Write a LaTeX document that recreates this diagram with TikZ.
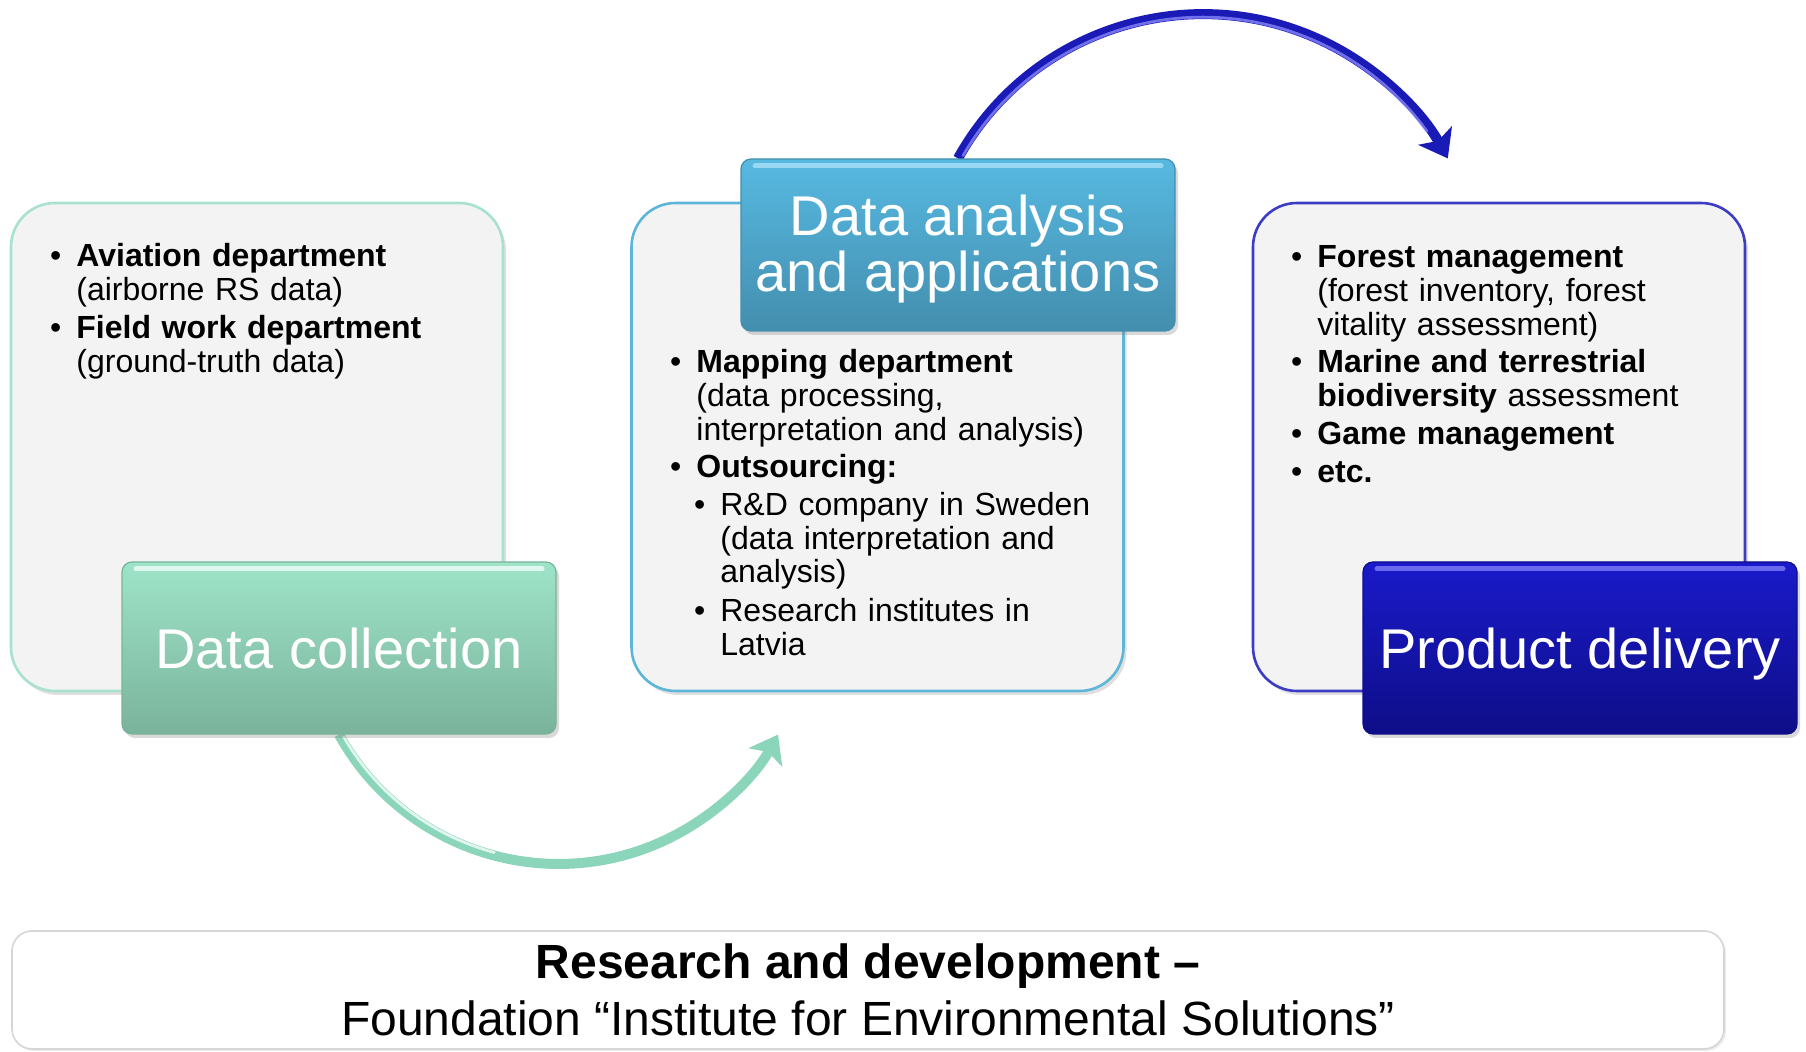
\documentclass[tikz,border=0pt]{standalone}
\usepackage{fontspec}
\setmainfont{Liberation Sans}
\usetikzlibrary{shadows,arrows.meta,backgrounds}
\definecolor{panelfill}{HTML}{F3F3F3}
\definecolor{mintline}{HTML}{A8E2CE}
\definecolor{mintTop}{HTML}{9EE4C9}
\definecolor{mintBot}{HTML}{7AB39C}
\definecolor{cyanline}{HTML}{5DB6D8}
\definecolor{cyanTop}{HTML}{57B9E1}
\definecolor{cyanBot}{HTML}{438EAE}
\definecolor{navyline}{HTML}{3C3CC4}
\definecolor{navyTop}{HTML}{1A1ACB}
\definecolor{navyBot}{HTML}{0E0E88}
\definecolor{bluearrow}{HTML}{1A1AB6}
\definecolor{greenarrow}{HTML}{8BD5BA}
\definecolor{rdline}{HTML}{D6D6D6}
\newcommand{\mybul}{\llap{\textbullet\hspace{7.5pt}}}
\begin{document}
\begin{tikzpicture}[x=0.5pt,y=0.5pt,
  panel/.style={draw=#1, line width=1.3pt, fill=panelfill, rounded corners=22pt,
    minimum width=246pt, minimum height=244pt, inner sep=0pt,
    drop shadow={shadow xshift=1.5pt, shadow yshift=-2pt, opacity=0.25}},
  titlebox/.style n args={3}{top color=#1, bottom color=#2, draw=#2, line width=0.6pt,
    rounded corners=5pt, minimum width=217pt, minimum height=86pt, inner sep=0pt,
    text=white, align=center, font=\fontsize{28}{29}\selectfont,
    drop shadow={shadow xshift=1.5pt, shadow yshift=-2pt, opacity=0.3},
    path picture={\draw[#3, line width=2.5pt, opacity=0.7, line cap=round]
      ([xshift=7pt,yshift=-3.5pt]path picture bounding box.north west) --
      ([xshift=-7pt,yshift=-3.5pt]path picture bounding box.north east);}},
  body/.style={anchor=base west, inner sep=0pt, text width=215pt, align=left,
    font=\fontsize{16}{16.85}\selectfont},
  rdbox/.style={draw=rdline, line width=0.8pt, fill=white, rounded corners=10pt,
    minimum width=856pt, minimum height=59pt, inner sep=0pt, align=center,
    font=\fontsize{24}{28.5}\selectfont,
    drop shadow={shadow xshift=1pt, shadow yshift=-1pt, opacity=0.15}},
  arrowline/.style={line width=5pt, draw=#1,
    -{Stealth[width=19pt,length=13pt,inset=3pt,fill=#1]}},
  glint/.style={line width=1.4pt, draw=#1, opacity=0.75, line cap=round}
]
\useasboundingbox (0,0) rectangle (1806,1051);

% panels
\node[panel=mintline] (lp) at (257,604) {};
\node[panel=cyanline] (mp) at (877.5,604) {};
\node[panel=navyline] (rp) at (1499,604) {};

% title boxes
\node[titlebox={mintTop}{mintBot}{white}] (dc) at (339,403) {Data collection};
\node[titlebox={cyanTop}{cyanBot}{cyan!30!white}] (da) at (958,806) {\raisebox{0pt}[\dimexpr\height+7pt\relax][\depth]{\begin{tabular}{@{}c@{}}Data analysis\\[-1pt]and applications\end{tabular}}};
\node[titlebox={navyTop}{navyBot}{blue!45!white}] (pd) at (1580,403) {\raisebox{0pt}[\height][0pt]{Product delivery}};

% arrows
\begin{pgfonlayer}{background}
\draw[arrowline=bluearrow] (da.north) arc[start angle=151, end angle=29, radius=140pt] coordinate (bluetip);
\coordinate (bc) at ([shift={(151:-140pt)}]da.north);
\draw[glint=blue!45!white] (bc) ++(150:138.5pt) arc[start angle=150, end angle=36, radius=138.5pt];
\draw[arrowline=greenarrow] (dc.south) arc[start angle=209, end angle=331, radius=125.5pt] coordinate (greentip);
\coordinate (gc) at ([shift={(209:-125.5pt)}]dc.south);
\draw[glint=white] (gc) ++(210:124pt) arc[start angle=210, end angle=255, radius=124pt];
\end{pgfonlayer}

% left panel text
\node[body] (l1) at (76,784) {\mybul\textbf{Aviation department}\\(airborne RS data)};
\node[body] (l2) at (76,712) {\mybul\textbf{Field work department}\\(ground-truth data)};

% middle panel text
\node[body] (m1) at (696,678) {\mybul\textbf{Mapping department}\\(data processing,\\interpretation and analysis)};
\node[body] (m2) at (696,573.5) {\mybul\textbf{Outsourcing:}};
\node[body] (m3) at (720,535.5) {\mybul R\&D company in Sweden\\(data interpretation and\\analysis)};
\node[body] (m4) at (720,429.5) {\mybul Research institutes in\\Latvia};

% right panel text
\node[body] (r1) at (1317,783) {\mybul\textbf{Forest management}\\(forest inventory, forest\\vitality assessment)};
\node[body] (r2) at (1317,678) {\mybul\textbf{Marine and terrestrial}\\\textbf{biodiversity} assessment};
\node[body] (r3) at (1317,606) {\mybul\textbf{Game management}};
\node[body] (r4) at (1317,568) {\mybul\textbf{etc.}};

% bottom box
\node[rdbox] (rd) at (868,61) {\textbf{Research and development –}\\Foundation “Institute for Environmental Solutions”};
\end{tikzpicture}
\end{document}
